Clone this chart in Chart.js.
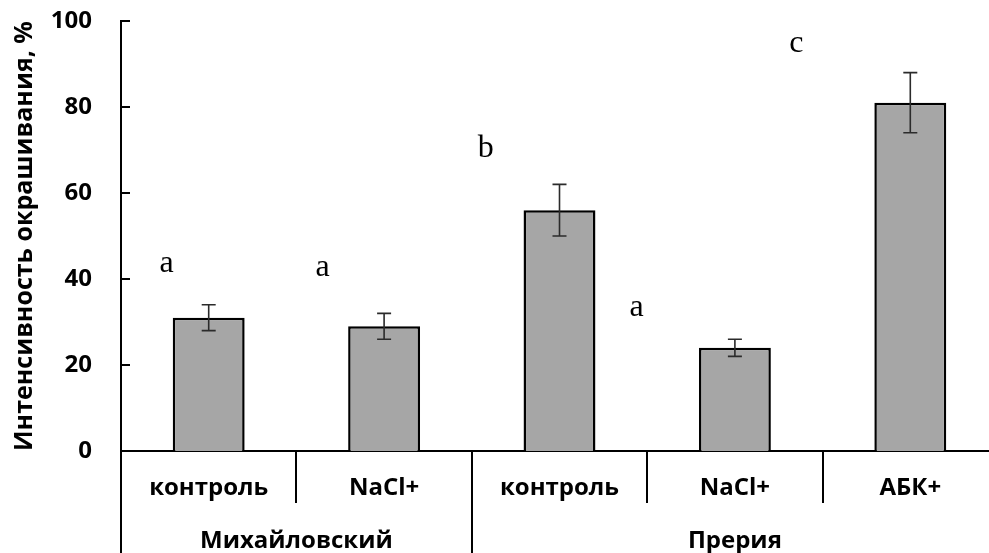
<!DOCTYPE html>
<html><head><meta charset="utf-8">
<script src="https://cdn.jsdelivr.net/npm/chart.js@4.4.0/dist/chart.umd.min.js"></script>
<style>
html,body{margin:0;padding:0;background:#fff;overflow:hidden}
#wrap{width:989px;height:553px;overflow:hidden;position:relative;background:#fff}
canvas{display:block}
</style>
</head><body>
<div id="wrap"><canvas id="c" width="1000" height="553"></canvas></div>
<script>
// ---- data ----
const categories = ['контроль', 'NaCl+', 'контроль', 'NaCl+', 'АБК+'];
const groups = ['Михайловский', 'Михайловский', 'Прерия', 'Прерия', 'Прерия'];
const values = [31, 29, 56, 24, 81];
const errors = [3, 3, 6, 2, 7];
const letters = ['a', 'a', 'b', 'a', 'c'];
const letterOffsets = [-0.24, -0.35, -0.42, -0.56, -0.65];   // in category units
const letterValues = [41.7, 40.6, 68.3, 31.3, 92.7];         // in y units (baseline)
const yMin = 0, yMax = 100, yStep = 20;
const yTitle = 'Интенсивность окрашивания, %';

const SANS = '"Open Sans", "DejaVu Sans", sans-serif';

const extras = {
  id: 'extras',
  afterDatasetsDraw(chart) {
    const ctx = chart.ctx, x = chart.scales.x, y = chart.scales.y;
    ctx.save();
    // error bars
    ctx.strokeStyle = '#2b2b2b';
    ctx.lineWidth = 1.6;
    values.forEach((v, i) => {
      const px = x.getPixelForValue(i);
      const top = y.getPixelForValue(v + errors[i]);
      const bot = y.getPixelForValue(v - errors[i]);
      ctx.beginPath();
      ctx.moveTo(px, top); ctx.lineTo(px, bot);
      ctx.moveTo(px - 7, top); ctx.lineTo(px + 7, top);
      ctx.moveTo(px - 7, bot); ctx.lineTo(px + 7, bot);
      ctx.stroke();
    });
    // significance letters
    ctx.fillStyle = '#000';
    ctx.font = '32px "Liberation Serif", "Times New Roman", serif';
    ctx.textAlign = 'center';
    ctx.textBaseline = 'alphabetic';
    letters.forEach((t, i) => {
      ctx.fillText(t, x.getPixelForValue(i + letterOffsets[i]), y.getPixelForValue(letterValues[i]));
    });
    ctx.restore();
  },
  afterDraw(chart) {
    const ctx = chart.ctx, x = chart.scales.x, y = chart.scales.y;
    const area = chart.chartArea;
    const H = chart.height;
    ctx.save();
    ctx.strokeStyle = '#000';
    ctx.lineWidth = 2;
    // inside ticks on y axis
    y.ticks.forEach(t => {
      const py = Math.round(y.getPixelForValue(t.value));
      ctx.beginPath();
      ctx.moveTo(area.left, py); ctx.lineTo(area.left + 9, py);
      ctx.stroke();
    });
    // category separators
    for (let i = 0; i <= categories.length; i++) {
      const px = Math.round(x.getPixelForValue(i - 0.5));
      const full = i === 0 || i === categories.length || groups[i] !== groups[i - 1];
      ctx.beginPath();
      ctx.moveTo(px, area.bottom);
      ctx.lineTo(px, full ? H : area.bottom + 52);
      ctx.stroke();
    }
    // group labels
    ctx.fillStyle = '#000';
    ctx.font = 'bold 24px ' + SANS;
    ctx.textAlign = 'center';
    ctx.textBaseline = 'alphabetic';
    let s = 0;
    for (let i = 1; i <= groups.length; i++) {
      if (i === groups.length || groups[i] !== groups[s]) {
        const cx = (x.getPixelForValue(s - 0.5) + x.getPixelForValue(i - 0.5)) / 2;
        ctx.fillText(groups[s], cx, 548);
        s = i;
      }
    }
    ctx.restore();
  }
};

new Chart(document.getElementById('c'), {
  type: 'bar',
  data: {
    labels: categories,
    datasets: [{
      data: values,
      backgroundColor: '#a6a6a6',
      borderColor: '#000',
      borderWidth: 2.5,
      barPercentage: 0.41,
      categoryPercentage: 1
    }]
  },
  options: {
    responsive: false,
    animation: false,
    events: [],
    layout: { padding: { top: 21, right: 2, left: 0, bottom: 0 } },
    plugins: { legend: { display: false }, tooltip: { enabled: false } },
    scales: {
      x: {
        grid: { display: false, drawTicks: false },
        border: { display: true, color: '#000', width: 2 },
        ticks: { color: '#000', font: { family: SANS, size: 24, weight: 'bold' }, padding: 23, maxRotation: 0, autoSkip: false },
        afterFit: s => { s.height = 102; s.paddingLeft = 0; s.paddingRight = 0; s.paddingTop = 0; s.paddingBottom = 0; }
      },
      y: {
        min: yMin, max: yMax,
        grid: { display: false, drawTicks: false },
        border: { display: true, color: '#000', width: 2 },
        ticks: { stepSize: yStep, color: '#000', font: { family: SANS, size: 24, weight: 'bold' }, padding: 29 },
        title: { display: true, text: yTitle, color: '#000', align: 'start', font: { family: SANS, size: 25, weight: 'bold' }, padding: { top: 10, bottom: 0 } },
        afterFit: s => { s.width = 121; s.paddingTop = 0; s.paddingBottom = 0; s.paddingLeft = 0; s.paddingRight = 0; }
      }
    }
  },
  plugins: [extras]
});
</script>
</body></html>
